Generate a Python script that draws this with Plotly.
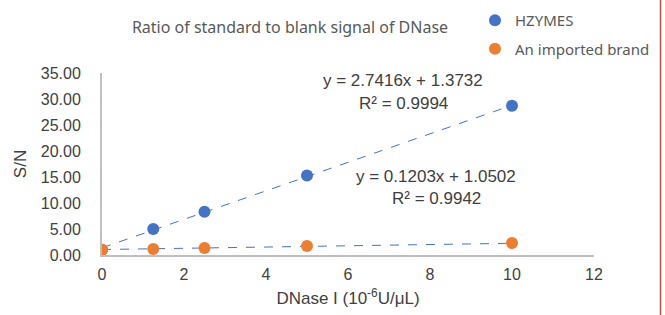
import plotly.graph_objects as go

x_vals = [0, 1.25, 2.5, 5, 10]
hzymes = [1.0, 5.0, 8.3, 15.3, 28.7]
imported = [1.0, 1.15, 1.35, 1.75, 2.3]
fit_h = (2.7416, 1.3732)
fit_i = (0.1203, 1.0502)
trend_x = [0, 10]
y_ticks = [0, 5, 10, 15, 20, 25, 30, 35]

blue = "#4472C4"
orange = "#ED7D31"

W, H = 665, 315
L, R, T, B = 102, 71, 73, 60
pw, ph = W - L - R, H - T - B

fig = go.Figure()
fig.add_trace(go.Scatter(x=trend_x, y=[fit_h[0] * v + fit_h[1] for v in trend_x], mode="lines",
                         line=dict(color=blue, width=1, dash="dash"), showlegend=False, hoverinfo="skip"))
fig.add_trace(go.Scatter(x=trend_x, y=[fit_i[0] * v + fit_i[1] for v in trend_x], mode="lines",
                         line=dict(color=blue, width=1, dash="dash"), showlegend=False, hoverinfo="skip"))
fig.add_trace(go.Scatter(x=x_vals, y=hzymes, mode="markers", name="HZYMES", legendgroup="a",
                         marker=dict(color=blue, size=12)))
fig.add_trace(go.Scatter(x=x_vals, y=imported, mode="markers", name="An imported brand", legendgroup="b",
                         marker=dict(color=orange, size=12)))

def px_x(p):
    return (p - L) / pw

def px_y(p):
    return (H - B - p) / ph

sans = "Liberation Sans, Arial, sans-serif"
ann_font = dict(family=sans, size=17, color="#404040")
annots = [
    ("y = 2.7416x + 1.3732", 403, 80),
    ("R² = 0.9994", 403, 103),
    ("y = 0.1203x + 1.0502", 436, 176),
    ("R² = 0.9942", 436, 198),
]
for t, xp, yp in annots:
    fig.add_annotation(text=t, x=px_x(xp), y=px_y(yp), xref="paper", yref="paper",
                       showarrow=False, xanchor="center", yanchor="middle", font=ann_font)

fig.add_shape(type="line", xref="paper", yref="paper", x0=px_x(660.5), x1=px_x(660.5),
              y0=px_y(H), y1=px_y(0), line=dict(color="#C0504D", width=1.5), layer="above")

fig.update_layout(
    width=W, height=H,
    margin=dict(l=L, r=R, t=T, b=B, autoexpand=False),
    paper_bgcolor="white", plot_bgcolor="white",
    title=dict(text="Ratio of standard to blank signal of DNase", x=290 / W, xanchor="center",
               y=1 - 27 / H, yanchor="middle",
               font=dict(family="Noto Sans, Open Sans, sans-serif", size=16, color="#595959")),
    legend=dict(x=px_x(475), y=px_y(4), xanchor="left", yanchor="top", traceorder="grouped",
                tracegroupgap=6, bgcolor="rgba(0,0,0,0)", itemwidth=30,
                font=dict(family="Noto Sans, Open Sans, sans-serif", size=15, color="#595959")),
    showlegend=True,
)
fig.update_xaxes(range=[0, 12], tickvals=[0, 2, 4, 6, 8, 10, 12], showgrid=False, zeroline=False,
                 showline=True, linecolor="#BFBFBF", linewidth=2, ticks="", automargin=False,
                 ticklabelstandoff=4,
                 tickfont=dict(family=sans, size=16, color="#404040"),
                 title=dict(text="DNase I (10<sup>-6</sup>U/μL)", standoff=10,
                            font=dict(family=sans, size=17, color="#404040")))
fig.update_yaxes(range=[0, 35], tickvals=y_ticks, ticktext=[f"{v:.2f}" for v in y_ticks],
                 showgrid=False, zeroline=False, showline=True, linecolor="#BFBFBF", linewidth=2,
                 ticks="", ticklabelstandoff=16, automargin=False,
                 tickfont=dict(family=sans, size=16, color="#404040"),
                 title=dict(text="S/N", standoff=10,
                            font=dict(family=sans, size=17, color="#404040")))

fig.write_html("out.html", config={"displayModeBar": False})

with open("out.html", "r", encoding="utf-8") as f:
    html = f.read()
html = html.replace("<head>", "<head><style>html,body{margin:0;padding:0;overflow:hidden;}</style>", 1)
with open("out.html", "w", encoding="utf-8") as f:
    f.write(html)
